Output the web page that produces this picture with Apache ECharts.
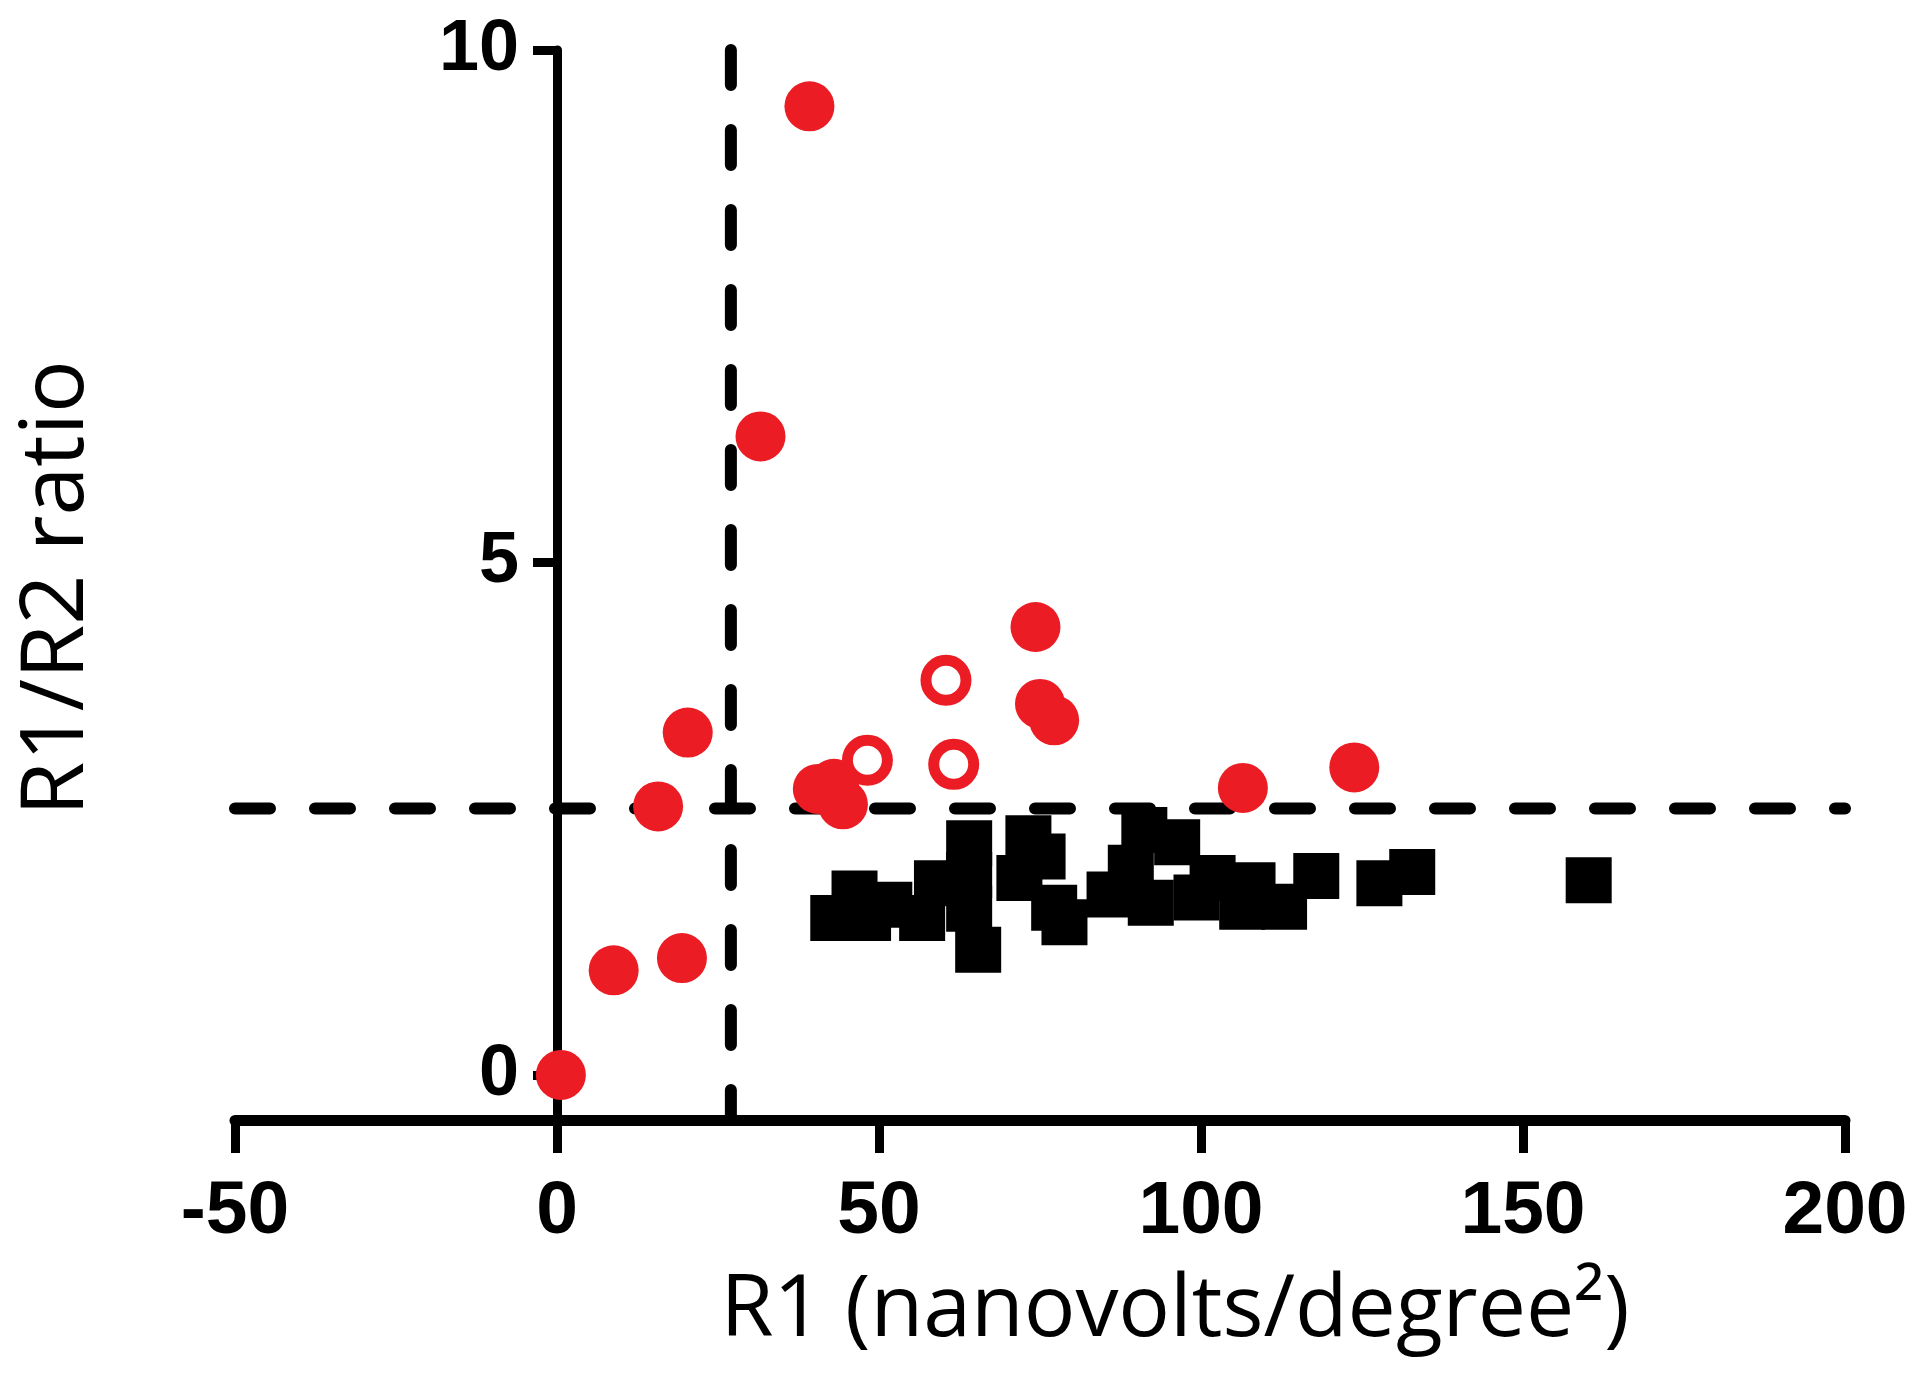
<!DOCTYPE html>
<html>
<head>
<meta charset="utf-8">
<script src="https://cdn.jsdelivr.net/npm/echarts@6/dist/echarts.min.js"></script>
<style>
html,body{margin:0;padding:0;background:#fff;}
#chart{width:1920px;height:1394px;}
</style>
</head>
<body>
<div id="chart"></div>
<script>
// ---- data ----
const xTicks = [-50, 0, 50, 100, 150, 200];
const yTicks = [0, 5, 10];
const r1Cutoff = 27;       // vertical dashed line (R1)
const ratioCutoff = 2.6;   // horizontal dashed line (R1/R2)

const blackR1    = [42.9, 46.2, 48.3, 51.6, 56.7, 59.0, 64.0, 64.0, 64.0, 65.4, 71.8, 73.2, 75.4, 77.2, 78.8, 85.8, 89.1, 91.2, 92.2, 96.3, 99.3, 101.8, 106.4, 108.0, 112.9, 117.9, 127.7, 132.8, 160.2];
const blackRatio = [1.53, 1.77, 1.53, 1.66, 1.53, 1.87, 2.26, 1.95, 1.62, 1.22, 1.92, 2.31, 2.13, 1.63, 1.49, 1.76, 2.02, 2.39, 1.68, 2.27, 1.73, 1.92, 1.64, 1.85, 1.64, 1.94, 1.87, 1.98, 1.90];

const redR1    = [39.2, 31.6, 74.3, 75.0, 77.2, 20.3, 123.8, 106.5, 40.5, 43.0, 44.4, 15.7, 8.8, 19.4, 0.6];
const redRatio = [9.45, 6.23, 4.37, 3.62, 3.46, 3.34, 3.00, 2.80, 2.79, 2.84, 2.64, 2.62, 1.02, 1.14, 0.00];

const openR1    = [60.4, 48.2, 61.6];
const openRatio = [3.85, 3.07, 3.03];

const xMin = -50, xMax = 200, yMin = -0.44, yMax = 10;

const zip = (a, b) => a.map((v, i) => [v, b[i]]);
const RED = '#ec1c24';

const chart = echarts.init(document.getElementById('chart'), null, {renderer: 'canvas'});
const tickFont = {fontFamily: '"Liberation Sans", Arial, sans-serif', fontWeight: 'bold', color: '#000'};

chart.setOption({
  animation: false,
  backgroundColor: '#fff',
  grid: {left: 235, right: 75, top: 50, bottom: 274, containLabel: false, outerBoundsMode: 'none'},
  xAxis: {
    type: 'value', min: xMin, max: xMax, interval: 50,
    axisLine: {onZero: false, lineStyle: {color: '#000', width: 11}},
    axisTick: {show: true, length: 33, lineStyle: {color: '#000', width: 9}},
    axisLabel: Object.assign({margin: 55, fontSize: 75}, tickFont),
    splitLine: {show: false}
  },
  yAxis: {
    type: 'value', min: yMin, max: yMax,
    axisLine: {show: true, onZero: true, lineStyle: {color: '#000', width: 9}},
    axisTick: {show: true, length: 24, customValues: yTicks, lineStyle: {color: '#000', width: 9}},
    axisLabel: Object.assign({margin: -284, fontSize: 72, customValues: yTicks}, tickFont),
    splitLine: {show: false}
  },
  graphic: [
    {type: 'text', x: 1175, y: 1311, z: 10,
     style: {text: 'R1 (nanovolts/degree²)', font: '86px "Open Sans", "Noto Sans", sans-serif', fill: '#000',
             align: 'center', verticalAlign: 'middle', textAlign: 'center', textVerticalAlign: 'middle'}},
    {type: 'text', x: 58, y: 588, rotation: Math.PI / 2, z: 10,
     style: {text: 'R1/R2 ratio', font: '88px "Open Sans", "Noto Sans", sans-serif', fill: '#000',
             align: 'center', verticalAlign: 'middle', textAlign: 'center', textVerticalAlign: 'middle'}}
  ],
  series: [
    {type: 'line', data: [[r1Cutoff, yMax], [r1Cutoff, yMin]], symbol: 'none', silent: true, z: 1,
     lineStyle: {color: '#000', width: 12, type: [35, 45], cap: 'round'}},
    {type: 'line', data: [[xMin, ratioCutoff], [xMax, ratioCutoff]], symbol: 'none', silent: true, z: 1,
     lineStyle: {color: '#000', width: 12, type: [35, 45], cap: 'round'}},
    {type: 'scatter', data: zip(blackR1, blackRatio), symbol: 'rect', symbolSize: 46, z: 3,
     itemStyle: {color: '#000', opacity: 1}},
    {type: 'scatter', data: zip(redR1, redRatio), symbol: 'circle', symbolSize: 50, z: 4,
     itemStyle: {color: RED, opacity: 1}},
    {type: 'scatter', data: zip(openR1, openRatio), symbol: 'circle', symbolSize: 40, z: 5,
     itemStyle: {color: '#fff', borderColor: RED, borderWidth: 11, opacity: 1}}
  ]
});
</script>
</body>
</html>
